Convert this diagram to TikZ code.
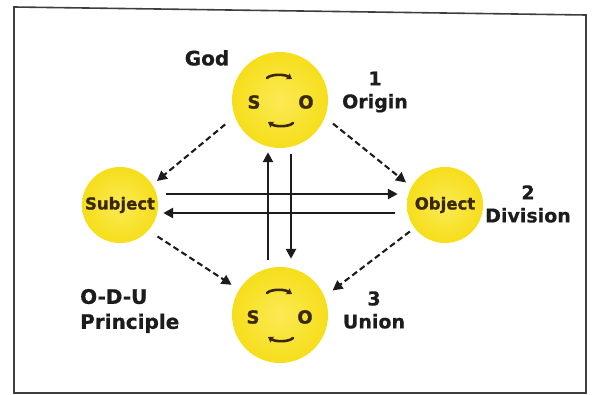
\documentclass[tikz,border=0pt]{standalone}
\usepackage{fontspec}
\setmainfont{DejaVu Sans}
\newfontfamily\heavyfont[FakeBold=1.2]{DejaVu Sans Bold}
\newfontfamily\lblfont[FakeBold=0.6]{DejaVu Sans Bold}
\usetikzlibrary{arrows.meta,calc}
\definecolor{yel}{HTML}{F6DE1A}
\definecolor{yelc}{HTML}{FBEA55}
\definecolor{brn}{HTML}{3A2804}
\definecolor{ink}{HTML}{1C1C1C}
\begin{document}
\begin{tikzpicture}[x=1pt,y=-1pt,
  ball/.style={circle, inner sep=0pt, minimum size=#1, inner color=yelc, outer color=yel},
  intext/.style={text=brn, font=\heavyfont\fontsize{16.5}{18}\selectfont},
  letter/.style={text=brn, font=\heavyfont\fontsize{18}{18}\selectfont, inner sep=0pt},
  lbl/.style={text=ink, font=\lblfont\fontsize{19}{23}\selectfont, align=center, inner sep=0pt},
  solidarr/.style={draw=ink, line width=2.5pt, -{Triangle[length=10pt,width=10pt]}},
  dasharr/.style={draw=ink, line width=2.1pt, dash pattern=on 6pt off 3.5pt, -{Triangle[length=10pt,width=10pt]}},
  rot/.style={draw=brn, line width=2.6pt, line cap=round, -{Triangle[length=5pt,width=6.5pt]}},
  frame/.style={draw=ink!85, line width=1.6pt}
]
\useasboundingbox (0,0) rectangle (595,395);
\draw[frame] (14,7) -- (586,15) -- (586,393) -- (14,393) -- cycle;

% circles
\node[ball=96pt] (G) at (280,100) {};
\node[ball=96pt] (U) at (280,315) {};
\node[ball=76pt, intext] (S) at (120,205) {Subject};
\node[ball=76pt, intext] (O) at (445,205) {Object};

% letters inside
\node[letter] (gs) at (254,102) {S};
\node[letter] (go) at (306,102) {O};
\node[letter] (us) at (253,317) {S};
\node[letter] (uo) at (305,317) {O};

% rotation arrows
\draw[rot] ($(G.center)+(-13pt,22pt)$) .. controls ($(G.center)+(-9pt,26pt)$) and ($(G.center)+(4pt,26pt)$) .. ($(G.center)+(12pt,21pt)$);
\draw[rot] ($(G.center)+(13pt,-23pt)$) .. controls ($(G.center)+(9pt,-27pt)$) and ($(G.center)+(-4pt,-27pt)$) .. ($(G.center)+(-12pt,-22pt)$);
\draw[rot] ($(U.center)+(-13pt,22pt)$) .. controls ($(U.center)+(-9pt,26pt)$) and ($(U.center)+(4pt,26pt)$) .. ($(U.center)+(12pt,21pt)$);
\draw[rot] ($(U.center)+(13pt,-23pt)$) .. controls ($(U.center)+(9pt,-27pt)$) and ($(U.center)+(-4pt,-27pt)$) .. ($(U.center)+(-12pt,-22pt)$);

% labels
\node[lbl, font=\lblfont\fontsize{20}{22}\selectfont] (god) at (207,58) {God};
\node[lbl] (l1) at (375,92) {1\\Origin};
\node[lbl] (l2) at (528,204) {2\\Division};
\node[lbl] (l3) at (374,310) {3\\Union};
\node[lbl, align=left, anchor=west, font=\lblfont\fontsize{20}{25}\selectfont] (odu) at (80,311) {O-D-U\\Principle};

% solid arrows
\draw[solidarr] ([xshift=8pt,yshift=11pt]S.east) -- ([xshift=-9pt,yshift=11pt]O.west);
\draw[solidarr] ([xshift=-12pt,yshift=-8pt]O.west) -- ([xshift=5pt,yshift=-8pt]S.east);
\draw[solidarr] ([xshift=-12pt,yshift=7pt]U.north) -- ([xshift=-12pt,yshift=-4pt]G.south);
\draw[solidarr] ([xshift=11pt,yshift=-6pt]G.south) -- ([xshift=11pt,yshift=8pt]U.north);

% dashed arrows
\draw[dasharr] ($(G.center)+(204:60pt)$) -- ($(S.center)+(33:44pt)$);
\draw[dasharr] ($(G.center)+(336:58pt)$) -- ($(O.center)+(150:45pt)$);
\draw[dasharr] ($(S.center)+(320:49pt)$) -- ($(U.center)+(148:57pt)$);
\draw[dasharr] ($(O.center)+(217:44pt)$) -- ($(U.center)+(25:58pt)$);
\end{tikzpicture}
\end{document}
